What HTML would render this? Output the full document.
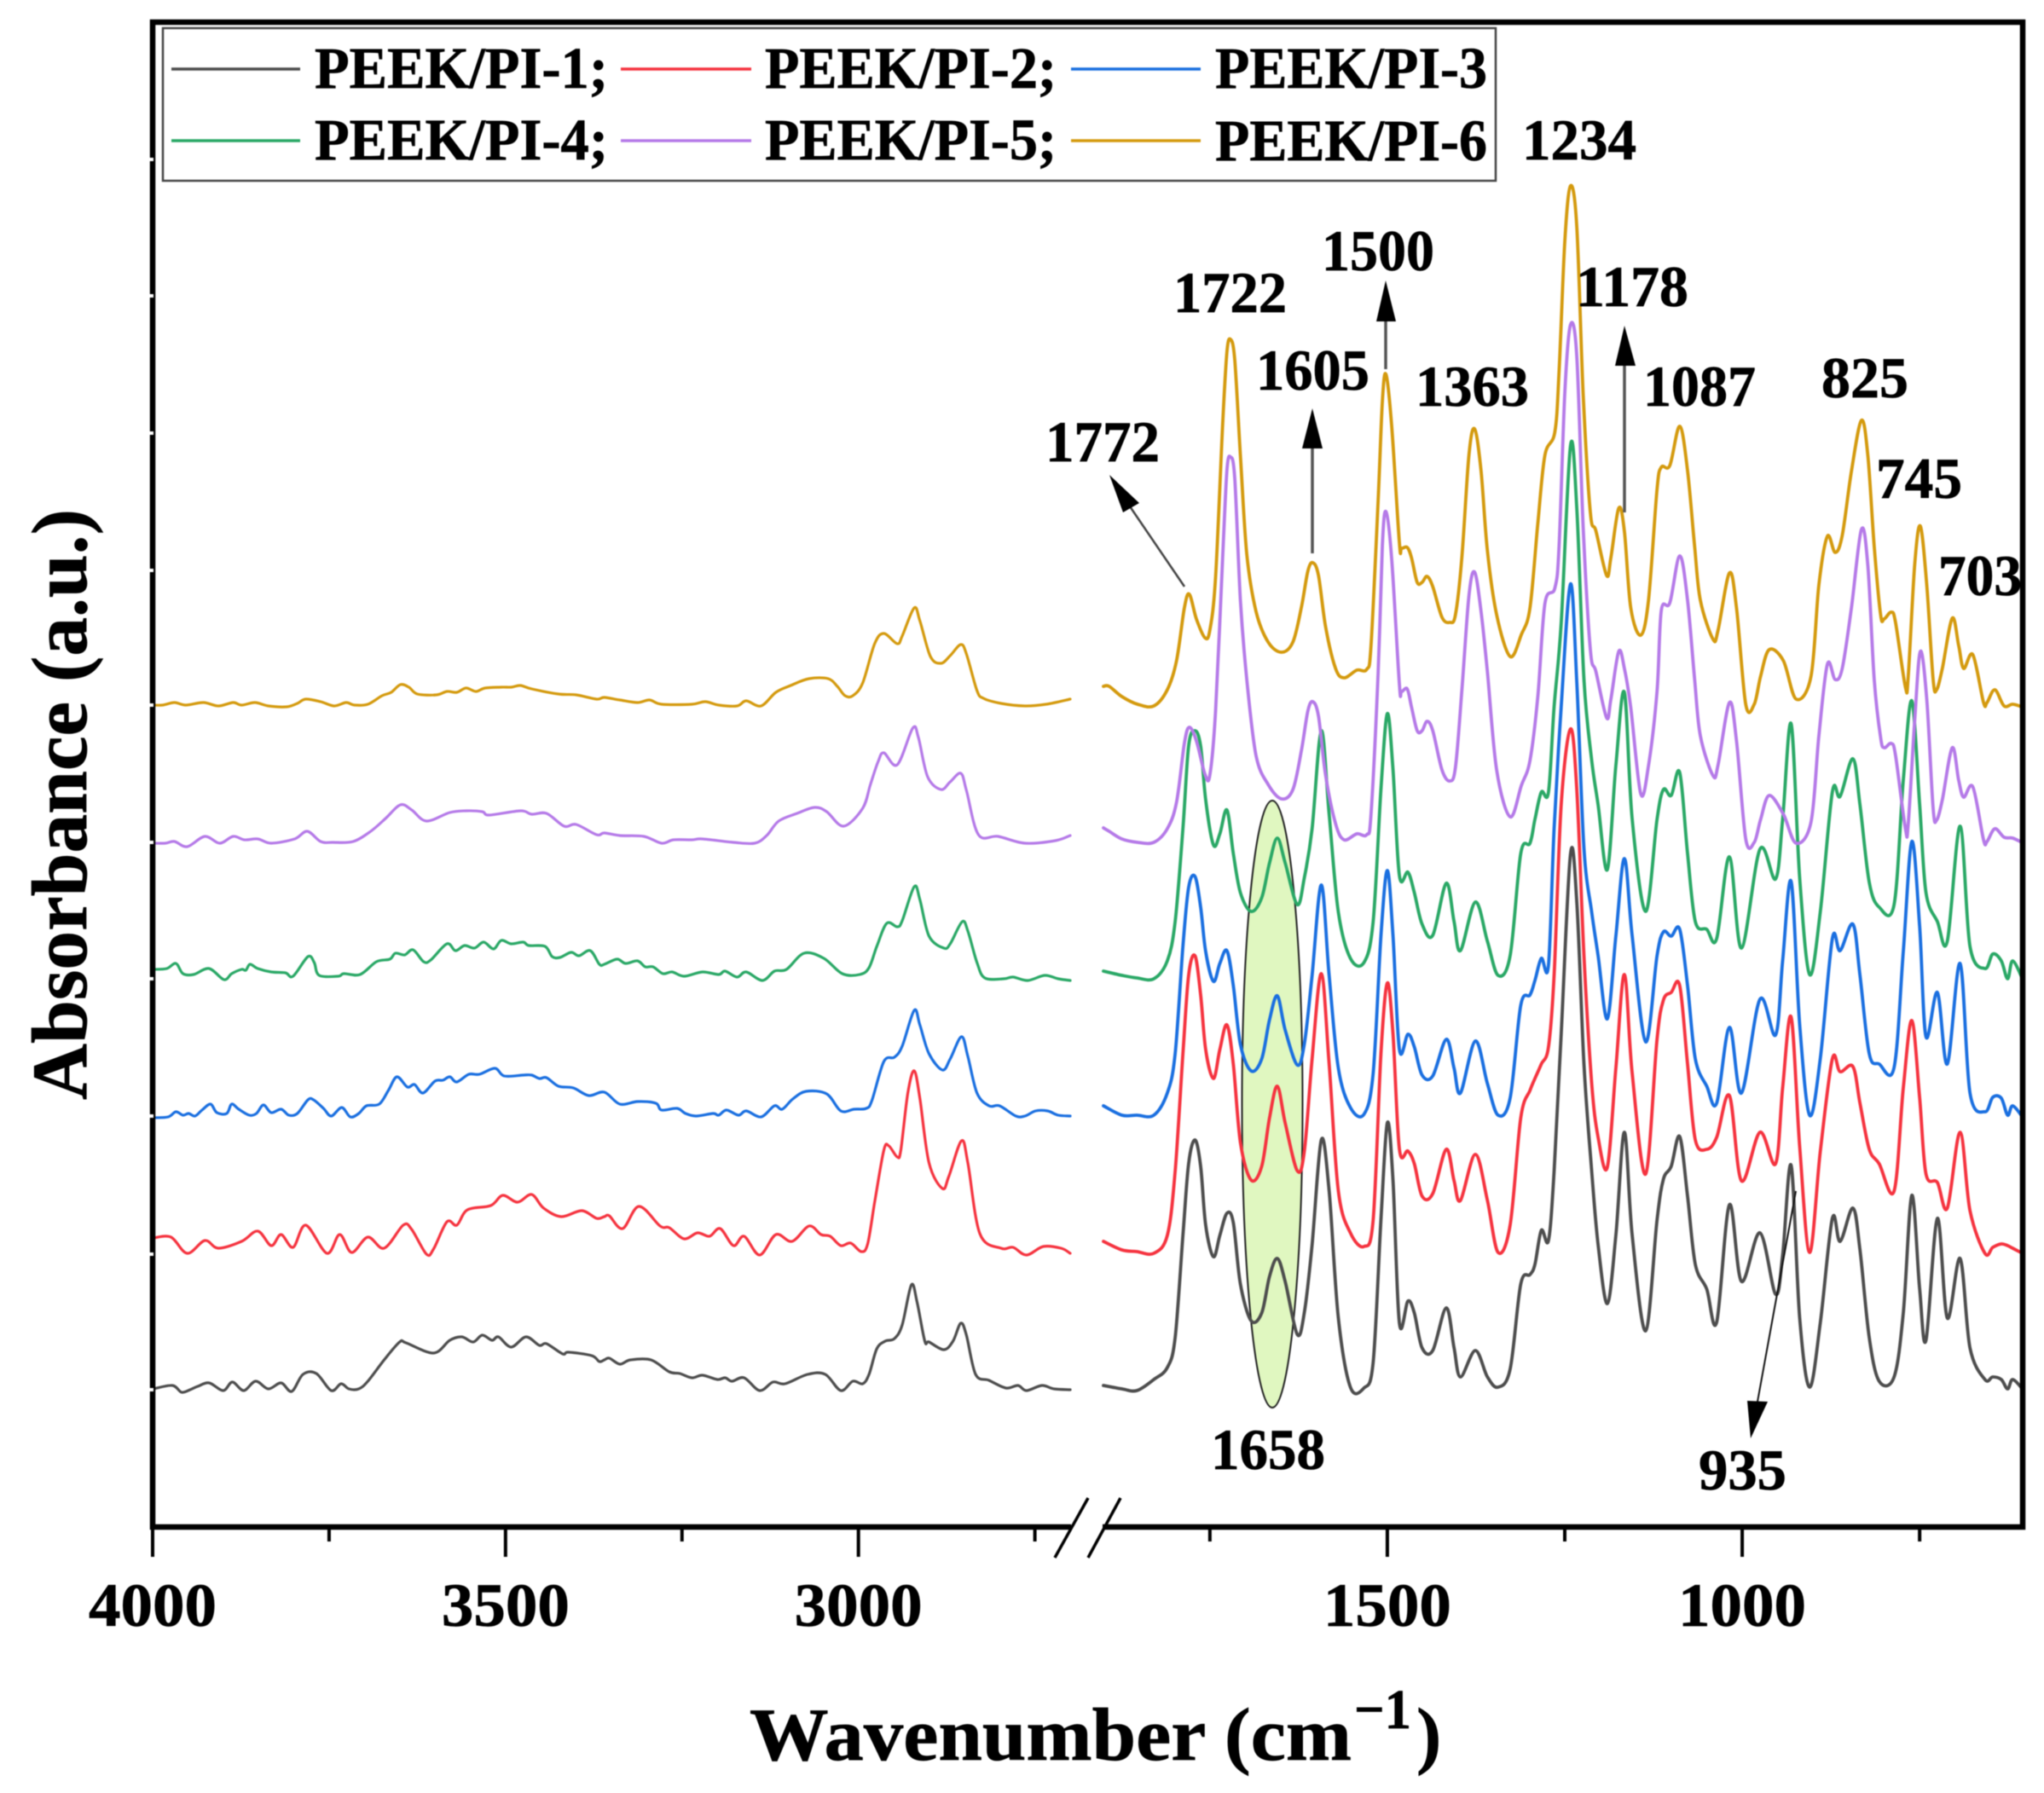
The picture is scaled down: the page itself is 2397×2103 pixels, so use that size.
<!DOCTYPE html>
<html lang="en">
<head>
<meta charset="utf-8">
<title>FTIR spectra of PEEK/PI samples</title>
<style>
html,body{margin:0;padding:0;background:#fff;}
svg{display:block;filter:blur(0.6px);}
text{font-family:"Liberation Serif","Times New Roman",serif;font-weight:bold;fill:#000;stroke:#000;stroke-width:0.7px;}
.lbl{font-size:68px;}
.leg{font-size:69px;}
</style>
</head>
<body>
<svg id="chart" xmlns="http://www.w3.org/2000/svg" width="2397" height="2103" viewBox="0 0 2397 2103">
  <rect x="0" y="0" width="2397" height="2103" fill="#fff"/>
  <ellipse cx="1492" cy="1295" rx="35.5" ry="356" fill="#e0f7c0" stroke="#222" stroke-width="2"/>
  <g id="series-layer" fill="none" stroke-linejoin="round" stroke-linecap="round"></g>

  <rect x="179" y="26" width="2193" height="1765" fill="none" stroke="#000" stroke-width="6.5"/>
  <rect x="1256" y="1785" width="37" height="12" fill="#fff"/>
  <line x1="1237" y1="1827" x2="1276" y2="1757" stroke="#000" stroke-width="3.5"/>
  <line x1="1276" y1="1827" x2="1314" y2="1757" stroke="#000" stroke-width="3.5"/>
  <g id="axis-layer"></g>

  <g>
    <line x1="1389" y1="688" x2="1325" y2="594" stroke="#444" stroke-width="2.5"/>
    <polygon points="1301,557 1317,601 1336,590" fill="#000"/>
    <line x1="1539" y1="649" x2="1539" y2="526" stroke="#555" stroke-width="3.5"/>
    <polygon points="1539,479 1527,526 1551,526" fill="#000"/>
    <line x1="1625" y1="433" x2="1625" y2="377" stroke="#555" stroke-width="3.5"/>
    <polygon points="1625,329 1614,377 1637,377" fill="#000"/>
    <line x1="1905" y1="601" x2="1905" y2="429" stroke="#555" stroke-width="3.5"/>
    <polygon points="1905,382 1894,429 1918,429" fill="#000"/>
    <line x1="2106" y1="1397" x2="2061" y2="1644" stroke="#111" stroke-width="2"/>
    <polygon points="2053,1687 2049,1643 2073,1644" fill="#000"/>
  </g>

  <g>
    <text class="lbl" x="1226" y="541" textLength="134" lengthAdjust="spacingAndGlyphs">1772</text>
    <text class="lbl" x="1376" y="366" textLength="133" lengthAdjust="spacingAndGlyphs">1722</text>
    <text class="lbl" x="1473" y="457" textLength="133" lengthAdjust="spacingAndGlyphs">1605</text>
    <text class="lbl" x="1550" y="317" textLength="132" lengthAdjust="spacingAndGlyphs">1500</text>
    <text class="lbl" x="1660" y="476" textLength="133" lengthAdjust="spacingAndGlyphs">1363</text>
    <text class="lbl" x="1785" y="187" textLength="134" lengthAdjust="spacingAndGlyphs">1234</text>
    <text class="lbl" x="1848" y="359" textLength="132" lengthAdjust="spacingAndGlyphs">1178</text>
    <text class="lbl" x="1927" y="476" textLength="132" lengthAdjust="spacingAndGlyphs">1087</text>
    <text class="lbl" x="2136" y="466" textLength="102" lengthAdjust="spacingAndGlyphs">825</text>
    <text class="lbl" x="2200" y="584" textLength="101" lengthAdjust="spacingAndGlyphs">745</text>
    <text class="lbl" x="2273" y="698" textLength="98" lengthAdjust="spacingAndGlyphs">703</text>
    <text class="lbl" x="1420" y="1723" textLength="134" lengthAdjust="spacingAndGlyphs">1658</text>
    <text class="lbl" x="1992" y="1747" textLength="103" lengthAdjust="spacingAndGlyphs">935</text>
  </g>

  <g>
    <rect x="191" y="33" width="1563" height="179" fill="#fff" stroke="#444" stroke-width="2.5"/>
    <line x1="201" y1="81" x2="352" y2="81" stroke="#4d4d4d" stroke-width="3.5"/>
    <text class="leg" x="369" y="103" textLength="344" lengthAdjust="spacingAndGlyphs">PEEK/PI-1;</text>
    <line x1="728" y1="81" x2="881" y2="81" stroke="#f5333f" stroke-width="3.5"/>
    <text class="leg" x="897" y="103" textLength="342" lengthAdjust="spacingAndGlyphs">PEEK/PI-2;</text>
    <line x1="1256" y1="81" x2="1408" y2="81" stroke="#1a6fe0" stroke-width="3.5"/>
    <text class="leg" x="1425" y="103" textLength="319" lengthAdjust="spacingAndGlyphs">PEEK/PI-3</text>
    <line x1="201" y1="165" x2="352" y2="165" stroke="#2aa866" stroke-width="3.5"/>
    <text class="leg" x="369" y="187" textLength="344" lengthAdjust="spacingAndGlyphs">PEEK/PI-4;</text>
    <line x1="728" y1="165" x2="881" y2="165" stroke="#b57ae8" stroke-width="3.5"/>
    <text class="leg" x="897" y="187" textLength="342" lengthAdjust="spacingAndGlyphs">PEEK/PI-5;</text>
    <line x1="1256" y1="165" x2="1408" y2="165" stroke="#d49a0e" stroke-width="3.5"/>
    <text class="leg" x="1425" y="188" textLength="319" lengthAdjust="spacingAndGlyphs">PEEK/PI-6</text>
  </g>

  <text transform="translate(101,1290) rotate(-90)" font-size="92" textLength="693" lengthAdjust="spacingAndGlyphs">Absorbance (a.u.)</text>
  <g>
    <text x="879" y="2064" font-size="88" textLength="706" lengthAdjust="spacingAndGlyphs">Wavenumber (cm</text>
    <text x="1588" y="2027" font-size="66" textLength="67" lengthAdjust="spacingAndGlyphs">−1</text>
    <text x="1661" y="2064" font-size="88">)</text>
  </g>
</svg>
<script>
// Tick values
const leftMajorTicks = [4000, 3500, 3000];
const leftMinorTicks = [3750, 3250, 2750];
const rightMajorTicks = [1500, 1000];
const rightMinorTicks = [1750, 1250, 750];
const yTickValues = [161, 320, 482, 643, 803, 964, 1122, 1283, 1444, 1604];

// Sample names and colours
const seriesNames = ["PEEK/PI-1", "PEEK/PI-2", "PEEK/PI-3", "PEEK/PI-4", "PEEK/PI-5", "PEEK/PI-6"];
const seriesColors = ["#4d4d4d", "#f5333f", "#1a6fe0", "#2aa866", "#b57ae8", "#d49a0e"];

// 4000-2700 cm-1 segment, per sample
const wnLeft1 = [3999,3972,3959,3947,3936,3920,3900,3887,3871,3854,3836,3818,3803,3787,3768,3747,3733,3722,3708,3695,3672,3650,3641,3602,3579,3562,3546,3533,3519,3510,3492,3471,3452,3442,3419,3411,3378,3367,3360,
3353,3338,3323,3294,3268,3253,3236,3221,3200,3189,3179,3162,3140,3121,3104,3072,3047,3025,3008,2994,2985,2974,2962,2949,2938,2925,2917,2906,2900,2879,2866,2855,2847,2834,2815,2791,2774,2762,2740,2723,2700];
const absLeft1 = [162,166,158,161,165,169,160,170,160,171,162,169,159,179,180,160,168,162,162,171,196,217,216,204,219,223,217,225,219,223,211,223,213,215,203,205,201,194,196,
198,191,196,196,182,180,175,178,173,175,171,175,160,170,168,179,179,160,171,168,179,209,218,221,237,284,264,218,217,208,218,239,225,179,172,163,166,160,166,162,161];

const wnLeft2 = [3999,3974,3951,3926,3907,3874,3851,3832,3818,3801,3783,3753,3735,3718,3695,3672,3645,3633,3612,3602,3583,3569,3554,3521,3504,3483,3463,3446,3421,3392,3371,3360,
3353,3334,3311,3281,3268,3247,3228,3211,3196,3177,3162,3140,3117,3094,3070,3053,3040,3025,3011,2996,2987,2977,2964,2957,2945,2940,2930,2921,2913,2900,2881,2872,2854,2845,2828,2798,2781,2762,2738,2713,2700];
const absLeft2 = [339,340,321,336,327,335,347,330,343,328,354,321,343,322,340,327,354,349,320,326,358,354,372,377,389,381,390,374,364,371,362,364,
365,350,376,353,351,338,345,341,350,330,341,319,343,335,353,343,341,330,333,323,332,381,442,447,434,442,509,535,503,427,397,411,453,427,344,327,328,319,329,327,321];

const wnLeft3 = [3999,3978,3967,3957,3949,3940,3930,3918,3909,3895,3888,3878,3863,3853,3843,3832,3818,3807,3795,3780,3772,3758,3747,3732,3720,3708,3697,3679,3666,3654,3639,3629,3617,3600,3589,3579,3569,3552,3537,3515,3502,3475,3463,3452,3442,3425,3404,3382,3360,
3338,3313,3287,3279,3257,3245,3230,3206,3198,3187,3170,3159,3138,3119,3108,3093,3074,3045,3025,3006,2989,2981,2964,2949,2938,2921,2913,2900,2881,2870,2854,2845,2832,2815,2800,2777,2764,2749,2732,2717,2700];
const absLeft3 = [480,481,487,483,485,482,489,496,486,485,496,490,483,485,495,486,490,483,485,501,501,491,482,492,481,485,494,496,512,528,516,519,509,523,524,528,522,531,531,538,529,530,530,526,527,517,515,506,510,
496,499,497,489,491,485,482,485,483,489,483,488,481,494,490,502,511,508,488,490,491,500,546,551,564,606,589,555,536,549,575,552,509,494,494,482,482,488,488,483,482];

const wnLeft4 = [3999,3980,3967,3957,3942,3920,3899,3888,3874,3868,3862,3851,3832,3812,3801,3780,3771,3764,3737,3729,3706,3683,3664,3656,3643,3631,3616,3606,3583,3571,3558,3544,3531,3517,3506,3492,3475,3467,3444,3434,3423,3407,3396,3380,3367,3360,
3342,3330,3313,3302,3291,3277,3264,3247,3221,3198,3189,3172,3159,3136,3119,3102,3077,3049,3023,2998,2985,2974,2960,2945,2938,2921,2913,2900,2879,2870,2853,2845,2832,2821,2794,2781,2760,2736,2717,2700];
const absLeft4 = [654,655,661,649,648,655,642,649,654,653,660,655,651,650,646,669,662,647,646,649,648,663,666,673,671,677,663,665,684,676,682,679,686,678,688,684,686,682,681,669,668,674,670,676,660,660,
666,661,664,657,657,649,651,646,651,648,652,645,651,641,652,654,673,667,649,648,656,681,708,704,711,751,736,693,679,684,710,699,662,644,643,645,641,647,643,641];

const wnLeft5 = [3999,3982,3969,3951,3926,3905,3886,3870,3851,3832,3799,3781,3762,3745,3716,3691,3670,3649,3633,3612,3579,3556,3533,3523,3479,3463,3442,3417,3400,3371,3360,
3338,3304,3279,3262,3236,3221,3177,3147,3130,3113,3087,3062,3045,3021,2994,2983,2972,2964,2945,2923,2915,2902,2883,2870,2855,2847,2830,2802,2764,2721,2700];
const absLeft5 = [802,802,804,798,810,802,810,806,807,802,807,816,804,803,804,816,831,847,841,828,838,840,839,835,840,836,837,822,824,812,814,
811,810,802,806,806,807,803,802,811,828,837,844,839,822,843,871,898,908,894,937,926,880,865,874,884,864,812,810,802,805,811];

const wnLeft6 = [3999,3986,3969,3953,3928,3907,3886,3874,3855,3836,3810,3795,3783,3762,3743,3726,3714,3695,3675,3662,3649,3637,3625,3598,3583,3569,3556,3542,3529,3506,3492,3479,3463,3425,3400,3371,
3360,3338,3313,3296,3279,3236,3217,3198,3172,3159,3138,3117,3096,3070,3043,3030,3019,3008,2994,2977,2964,2945,2938,2921,2913,2898,2883,2870,2855,2847,2832,2823,2798,2764,2734,2700];
const absLeft6 = [964,964,967,964,967,963,967,964,967,963,962,966,971,968,963,967,964,965,975,979,988,985,977,976,980,979,984,980,984,985,985,987,983,977,976,971,
973,970,967,970,965,965,968,964,963,969,963,979,987,995,995,986,975,975,990,1036,1048,1036,1045,1078,1063,1021,1013,1022,1035,1024,981,972,966,963,965,971];

// 1900-600 cm-1 segment: shared wavenumbers for samples 1-4
const wnRightLower = [1900,1874,1853,1829,1810,1799,1788,1780,1771,1763,1756,1745,1736,1726,1717,1707,1692,1677,1666,1655,1644,1627,1617,1606,1593,1582,1569,1552,1533,1520,1509,1500,1492,1483,1471,1462,1451,1436,1417,1406,1397,1376,1359,1344,1327,1312,1299,
1292,1283,1273,1265,1255,1242,1233,1223,1212,1203,1190,1178,1166,1155,1136,1120,1111,1100,1088,1077,1066,1050,1036,1018,1001,975,953,943,931,919,905,890,873,862,844,834,821,807,786,773,761,750,741,725,711,693,679,658,647,635,626,619,605];
const absRight1 = [166,162,160,173,187,222,342,426,454,423,354,317,342,368,357,285,242,251,294,315,288,226,251,331,454,394,245,164,163,193,360,474,406,239,265,251,210,207,257,210,176,207,176,164,185,285,296,
308,348,336,417,578,789,733,543,417,331,262,342,463,342,230,360,408,423,458,388,308,279,240,378,288,345,273,319,424,245,164,239,362,335,374,325,222,171,176,251,389,279,219,362,245,315,210,173,176,173,162,173,162];
const absRight2 = [335,325,323,321,342,417,555,647,670,624,560,526,560,589,543,451,407,423,480,517,474,418,440,549,649,543,394,345,329,360,555,638,578,443,441,426,388,391,443,406,383,437,383,322,354,480,512,
526,543,563,647,847,936,865,670,520,457,422,538,648,532,414,572,618,627,635,543,454,443,457,506,406,463,426,515,598,446,322,440,549,534,540,497,443,426,394,515,594,503,414,404,374,463,371,321,328,332,330,327,321];
const absRight3 = [494,483,483,483,509,555,681,750,763,727,675,640,661,676,635,566,535,549,595,623,583,542,566,647,753,647,538,492,484,532,693,770,693,560,578,563,530,529,572,538,509,570,520,483,503,612,624,
641,667,659,819,962,1106,991,796,721,670,596,693,784,693,569,670,698,693,701,635,549,517,497,586,509,619,577,664,757,589,483,549,690,676,707,647,555,543,539,675,804,704,575,627,543,661,509,487,504,503,483,494,481];
const absRight4 = [652,647,644,643,664,710,819,916,934,916,853,800,813,841,790,744,722,738,779,808,779,730,761,819,934,836,721,667,662,710,865,954,888,764,768,744,707,694,755,710,676,733,687,647,670,790,802,
830,862,862,962,1060,1268,1195,994,899,847,771,893,979,830,722,830,865,858,885,790,710,701,690,786,679,795,760,830,942,761,648,721,862,857,901,847,756,727,730,876,969,847,744,710,687,822,681,655,672,664,643,664,643];

// 1900-600 cm-1 segment: shared wavenumbers for samples 5-6
const wnRightUpper = [1900,1892,1874,1852,1829,1810,1797,1786,1779,1769,1757,1750,1742,1732,1726,1721,1715,1707,1698,1685,1668,1649,1633,1621,1612,1605,1597,1587,1573,1561,1543,1529,1523,1513,1507,1502,1494,1483,1480,1472,1466,1458,1451,1444,1436,1423,1412,1404,1395,1385,1377,1368,1359,1346,1327,1311,1299,1288,1278,1264,1258,1250,1242,1233,1224,1214,1206,1191,1185,1174,1166,1157,1143,1132,1120,1114,1102,1088,1077,1067,1059,1041,1034,1018,1008,995,983,974,962,942,924,903,892,880,869,859,846,832,823,814,805,800,790,784,770,766,757,749,740,731,726,718,704,695,688,675,660,655,644,631,619,606];
const absRight5 = [820,816,807,803,803,819,850,919,938,922,883,882,957,1137,1239,1255,1230,1087,994,905,871,854,865,911,957,968,951,882,825,806,813,812,836,1001,1151,1191,1137,988,980,983,962,934,934,945,934,888,875,891,981,1092,1120,1074,1003,888,833,870,899,974,1083,1101,1150,1329,1410,1373,1172,1029,1003,949,971,1027,1007,961,860,893,980,1075,1084,1139,1087,994,928,881,894,967,922,807,803,830,858,836,802,827,928,1012,994,1007,1079,1170,1128,994,926,914,919,905,819,825,945,1027,971,843,829,853,914,876,856,868,806,804,819,809,808,803];
const absRight6 = [986,986,974,965,963,982,1016,1078,1094,1065,1043,1052,1114,1293,1378,1393,1369,1257,1141,1074,1038,1026,1038,1079,1121,1131,1116,1056,1007,996,1005,1006,1034,1203,1320,1352,1293,1154,1148,1149,1137,1108,1108,1115,1103,1067,1061,1070,1137,1257,1288,1239,1145,1070,1021,1047,1078,1177,1257,1284,1355,1507,1573,1525,1328,1190,1168,1116,1137,1195,1168,1078,1046,1087,1217,1243,1245,1291,1239,1150,1087,1041,1052,1119,1078,965,965,998,1029,1016,971,998,1105,1162,1143,1163,1239,1298,1257,1150,1070,1065,1073,1061,985,998,1128,1174,1105,994,982,1007,1066,1034,1007,1023,967,967,982,963,965,962];

const leftWavenumbers = [wnLeft1, wnLeft2, wnLeft3, wnLeft4, wnLeft5, wnLeft6];
const leftAbsorbance = [absLeft1, absLeft2, absLeft3, absLeft4, absLeft5, absLeft6];
const rightWavenumbers = [wnRightLower, wnRightLower, wnRightLower, wnRightLower, wnRightUpper, wnRightUpper];
const rightAbsorbance = [absRight1, absRight2, absRight3, absRight4, absRight5, absRight6];

// Axis functions
function linear(d0, d1, r0, r1) {
  return function (v) { return r0 + (v - d0) * (r1 - r0) / (d1 - d0); };
}
const xLeft = linear(4000, 2700, 179, 1255);
const xRight = linear(1900, 600, 1294, 2376);
const yScale = linear(0, 1765, 1791, 26);

const SVGNS = "http://www.w3.org/2000/svg";
const seriesLayer = document.getElementById("series-layer");
const axisLayer = document.getElementById("axis-layer");

function smoothPath(xs, ys, xFn) {
  const pts = xs.map(function (w, i) { return [xFn(w), yScale(ys[i])]; });
  let d = "M" + pts[0][0].toFixed(1) + " " + pts[0][1].toFixed(1);
  for (let i = 0; i < pts.length - 1; i++) {
    const p0 = pts[Math.max(0, i - 1)];
    const p1 = pts[i];
    const p2 = pts[i + 1];
    const p3 = pts[Math.min(pts.length - 1, i + 2)];
    const c1x = p1[0] + (p2[0] - p0[0]) / 6;
    const c1y = p1[1] + (p2[1] - p0[1]) / 6;
    const c2x = p2[0] - (p3[0] - p1[0]) / 6;
    const c2y = p2[1] - (p3[1] - p1[1]) / 6;
    d += "C" + c1x.toFixed(1) + " " + c1y.toFixed(1) + " " + c2x.toFixed(1) + " " + c2y.toFixed(1) + " " + p2[0].toFixed(1) + " " + p2[1].toFixed(1);
  }
  return d;
}

seriesNames.forEach(function (name, i) {
  const group = document.createElementNS(SVGNS, "g");
  
  
  group.setAttribute("stroke", seriesColors[i]);

  const left = document.createElementNS(SVGNS, "path");
  
  
  left.setAttribute("d", smoothPath(leftWavenumbers[i], leftAbsorbance[i], xLeft));
  left.setAttribute("stroke-width", "3.2");
  group.appendChild(left);

  const right = document.createElementNS(SVGNS, "path");
  
  
  right.setAttribute("d", smoothPath(rightWavenumbers[i], rightAbsorbance[i], xRight));
  right.setAttribute("stroke-width", "3.8");
  group.appendChild(right);

  seriesLayer.appendChild(group);
});

function addXTick(x, major) {
  const tick = document.createElementNS(SVGNS, "line");
  
  
  tick.setAttribute("x1", x);
  tick.setAttribute("x2", x);
  tick.setAttribute("y1", 1791);
  tick.setAttribute("y2", major ? 1826 : 1808);
  tick.setAttribute("stroke", "#000");
  tick.setAttribute("stroke-width", "4");
  axisLayer.appendChild(tick);
}

function addXLabel(x, value) {
  const label = document.createElementNS(SVGNS, "text");
  
  
  label.setAttribute("x", x - 75);
  label.setAttribute("y", 1907);
  label.setAttribute("font-size", "72");
  label.setAttribute("textLength", "150");
  label.setAttribute("lengthAdjust", "spacingAndGlyphs");
  label.textContent = value;
  axisLayer.appendChild(label);
}

leftMajorTicks.forEach(function (v) { addXTick(xLeft(v), true); addXLabel(xLeft(v), v); });
leftMinorTicks.forEach(function (v) { addXTick(xLeft(v), false); });
rightMajorTicks.forEach(function (v) { addXTick(xRight(v), true); addXLabel(xRight(v), v); });
rightMinorTicks.forEach(function (v) { addXTick(xRight(v), false); });

yTickValues.forEach(function (v) {
  const notch = document.createElementNS(SVGNS, "rect");
  
  
  notch.setAttribute("x", 175);
  notch.setAttribute("y", yScale(v) - 2);
  notch.setAttribute("width", 5);
  notch.setAttribute("height", 4);
  notch.setAttribute("fill", "#fff");
  axisLayer.appendChild(notch);
});
</script>
</body>
</html>
